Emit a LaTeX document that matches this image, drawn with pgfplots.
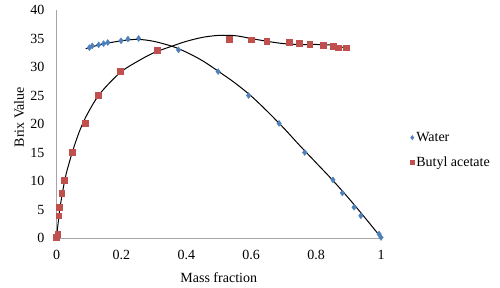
\documentclass[border=0pt]{standalone}
\usepackage{fontspec}
\setmainfont{Liberation Serif}
\usepackage{pgfplots}
\pgfplotsset{compat=1.18}
\definecolor{wblue}{HTML}{4F81BD}
\definecolor{bred}{HTML}{C0504D}
\begin{document}
\begin{tikzpicture}[font=\fontsize{14bp}{17bp}\selectfont]
\path[use as bounding box] (0,0) rectangle (500bp,288bp);
\begin{axis}[
  at={(56.5bp,50bp)}, anchor=south west,
  scale only axis, width=324.5bp, height=228bp,
  xmin=0, xmax=1, ymin=0, ymax=40,
  axis x line*=bottom, axis y line*=left,
  axis line style={draw=black!35, line width=0.8bp, -},
  xtick={0,0.2,0.4,0.6,0.8,1}, ytick={0,5,10,15,20,25,30,35,40},
  major tick length=0,
  /pgf/number format/assume math mode=true,
  tick label style={font=\fontsize{14bp}{17bp}\selectfont},
  xticklabel style={yshift=-9bp},
  yticklabel style={xshift=-8.5bp},
  xlabel={Mass fraction}, ylabel={Brix Value},
  xlabel style={at={(axis description cs:0.5,-0.175)}, anchor=center},
  ylabel style={at={(axis description cs:-0.115,0.53)}, anchor=center},
  clip=false,
  legend cell align=left,
  legend style={draw=none, fill=none, at={(axis description cs:1.08,0.385)}, anchor=west,
    font=\fontsize{14bp}{17bp}\selectfont, row sep=10bp},
  legend image code/.code={\draw[#1, every mark/.append style={scale=0.72}] plot coordinates {(4bp,0bp)};},
]
% trend lines
\addplot[black, line width=1bp, smooth, no markers, forget plot] coordinates {
(0.09,33.2)(0.12,33.7)(0.15,34.1)(0.2,34.6)(0.25,34.85)(0.3,34.5)(0.358,33.6)(0.4,32.6)(0.45,31.1)(0.5,29.2)(0.55,27.2)(0.6,24.9)(0.65,22.2)(0.7,19.3)(0.75,16.2)(0.8,13.2)(0.85,10.2)(0.9,7.0)(0.95,3.6)(1.0,0.1)};
\addplot[black, line width=1bp, smooth, no markers, forget plot] coordinates {
(0,0.2)(0.005,2.6)(0.01,5.0)(0.02,8.5)(0.03,11.3)(0.05,15.3)(0.07,18.6)(0.09,21.2)(0.12,24.2)(0.15,26.4)(0.2,29.2)(0.25,31.0)(0.3,32.5)(0.358,33.7)(0.4,34.5)(0.45,35.2)(0.5,35.55)(0.55,35.5)(0.6,35.0)(0.65,34.5)(0.7,34.1)(0.75,33.95)(0.8,33.95)(0.85,33.85)(0.88,33.5)(0.9,33.1)};
% data
\addplot[only marks, mark=diamond*, mark size=3bp, color=wblue, mark options={fill=wblue, draw=wblue}] coordinates {
(0.1015,33.4)(0.11,33.7)(0.13,33.9)(0.145,34.1)(0.158,34.3)(0.199,34.6)(0.22,34.9)(0.253,35.0)(0.376,33.0)(0.498,29.2)(0.592,25.0)(0.686,20.1)(0.765,15.0)(0.852,10.2)(0.881,7.9)(0.917,5.4)(0.938,3.9)(0.994,0.7)(1.0,0.1)};
\addlegendentry{Water}
\addplot[only marks, mark=square*, mark size=2.9bp, color=bred, mark options={fill=bred, draw=bred}] coordinates {
(0,0.1)(0.004,0.7)(0.007,3.9)(0.009,5.4)(0.016,7.9)(0.024,10.2)(0.048,15.1)(0.089,20.2)(0.129,25.0)(0.197,29.2)(0.31,33.0)(0.532,34.9)(0.599,34.8)(0.648,34.5)(0.717,34.3)(0.748,34.2)(0.78,34.0)(0.823,33.8)(0.853,33.6)(0.869,33.4)(0.893,33.4)};
\addlegendentry{Butyl acetate}
\end{axis}
\end{tikzpicture}
\end{document}
